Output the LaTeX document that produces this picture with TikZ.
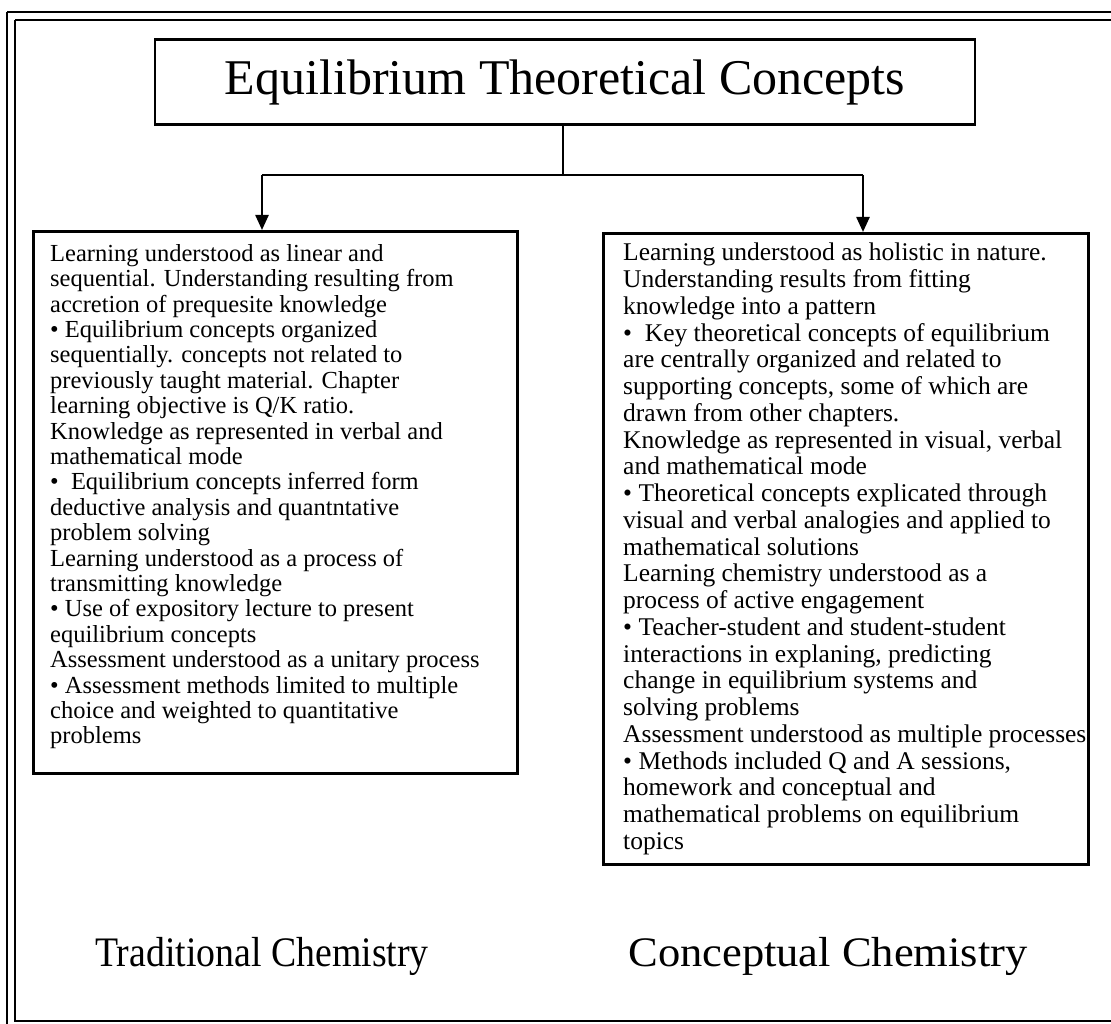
\documentclass[tikz,border=0pt]{standalone}
\usepackage{fontspec}
\setmainfont{Liberation Serif}
\usetikzlibrary{arrows.meta}
\begin{document}
\begin{tikzpicture}[x=1pt,y=-1pt,
  frameline/.style={line width=2pt},
  boxline/.style={draw, line width=2.6pt, inner sep=0pt},
  conn/.style={line width=2.4pt},
  arr/.style={conn, -{Triangle[width=13pt,length=15pt]}},
  bodytext/.style={inner sep=0pt, anchor=north west, align=left},
  biglabel/.style={inner sep=0pt, anchor=base, font=\fontsize{42}{46}\selectfont}]
\useasboundingbox (0,0) rectangle (1111,1024);
% outer double frame
\draw[frameline] (7,12) -- (1130,12);
\draw[frameline] (7,12) -- (7,1040);
\draw[frameline] (15,20) -- (1130,20);
\draw[frameline] (15,20) -- (15,1021) -- (1130,1021);
% title
\node[boxline, minimum width=820pt, minimum height=85pt,
  font=\fontsize{50}{54}\selectfont] (title) at (565,82) {Equilibrium Theoretical Concepts};
% boxes
\node[boxline, anchor=north west, minimum width=484pt, minimum height=542pt] (trad) at (32,230) {};
\node[boxline, anchor=north west, minimum width=485pt, minimum height=631pt] (conc) at (602,232) {};
% connectors
\coordinate (j) at (563,175);
\coordinate (ja) at (262,175);
\coordinate (jb) at (863,175);
\draw[conn] (title.south -| j) -- (j);
\draw[conn] (ja) -- (jb);
\draw[arr] (ja) -- (ja |- trad.north);
\draw[arr] (jb) -- (jb |- conc.north);
% texts
\node[bodytext, font=\fontsize{24.5}{25.4}\selectfont] (tradtxt) at (50,244) {Learning understood as linear and\\
sequential. Understanding resulting from\\
accretion of prequesite knowledge\\
• Equilibrium concepts organized\\
sequentially. concepts not related to\\
previously taught material. Chapter\\
learning objective is Q/K ratio.\\
Knowledge as represented in verbal and\\
mathematical mode\\
•\ \ Equilibrium concepts inferred form\\
deductive analysis and quantntative\\
problem solving\\
Learning understood as a process of\\
transmitting knowledge\\
• Use of expository lecture to present\\
equilibrium concepts\\
Assessment understood as a unitary process\\
• Assessment methods limited to multiple\\
choice and weighted to quantitative\\
problems};
\node[bodytext, font=\fontsize{25.5}{26.75}\selectfont] (conctxt) at (623,243) {Learning understood as holistic in nature.\\
Understanding results from fitting\\
knowledge into a pattern\\
•\ \ Key theoretical concepts of equilibrium\\
are centrally organized and related to\\
supporting concepts, some of which are\\
drawn from other chapters.\\
Knowledge as represented in visual, verbal\\
and mathematical mode\\
• Theoretical concepts explicated through\\
visual and verbal analogies and applied to\\
mathematical solutions\\
Learning chemistry understood as a\\
process of active engagement\\
• Teacher-student and student-student\\
interactions in explaning, predicting\\
change in equilibrium systems and\\
solving problems\\
Assessment understood as multiple processes\\
• Methods included Q and A sessions,\\
homework and conceptual and\\
mathematical problems on equilibrium\\
topics};
% bottom labels
\node[biglabel] (tradlab) at (262,966) {\scalebox{0.9}[1]{Traditional Chemistry}};
\node[biglabel] (conclab) at (828,966) {\scalebox{1.06}[1]{Conceptual Chemistry}};
\end{tikzpicture}
\end{document}
